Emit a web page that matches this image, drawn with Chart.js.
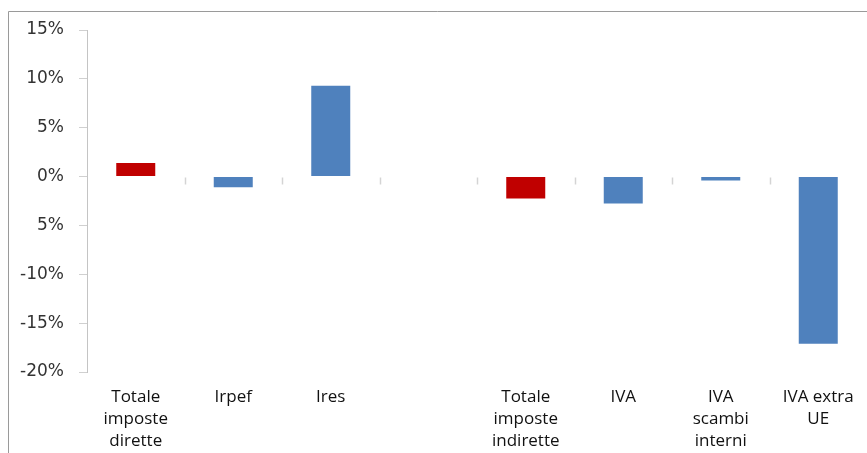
<!DOCTYPE html>
<html>
<head>
<meta charset="utf-8">
<script src="https://cdn.jsdelivr.net/npm/chart.js@4/dist/chart.umd.min.js"></script>
<style>
  html, body { margin: 0; padding: 0; background: #fff; }
  canvas { display: block; }
</style>
</head>
<body>
<canvas id="c" width="867" height="453"></canvas>
<script>
// Variazioni percentuali del gettito per voce d'imposta
const categories = [
  ["Totale", "imposte", "dirette"],
  "Irpef",
  "Ires",
  "",
  ["Totale", "imposte", "indirette"],
  "IVA",
  ["IVA", "scambi", "interni"],
  ["IVA extra", "UE"]
];
const values = [1.4, -1.1, 9.3, null, -2.25, -2.75, -0.4, -17.1];

const yTickValues = [15, 10, 5, 0, -5, -10, -15, -20];
const yTickLabels = ["15%", "10%", "5%", "0%", "5%", "-10%", "-15%", "-20%"];

const RED = "#C00000";
const BLUE = "#4F81BD";

const isTotal = (label) => Array.isArray(label) && label[0] === "Totale";

// Outer frame and small category ticks on the zero line
const decorations = {
  id: "decorations",
  beforeDraw(chart) {
    const ctx = chart.ctx;
    ctx.save();
    ctx.strokeStyle = "#9a9a9a";
    ctx.lineWidth = 1;
    ctx.beginPath();
    ctx.moveTo(8.5, chart.height);
    ctx.lineTo(8.5, 11.5);
    ctx.lineTo(chart.width, 11.5);
    ctx.stroke();
    ctx.restore();
  },
  afterDatasetsDraw(chart) {
    const { ctx, scales: { x, y } } = chart;
    const y0 = Math.round(y.getPixelForValue(0)) + 0.5;
    ctx.save();
    ctx.strokeStyle = "#d4d4d4";
    ctx.lineWidth = 1.5;
    for (let i = 1; i < categories.length; i++) {
      const bx = Math.round((x.getPixelForValue(i - 1) + x.getPixelForValue(i)) / 2) + 0.5;
      ctx.beginPath();
      ctx.moveTo(bx, y0);
      ctx.lineTo(bx, y0 + 7);
      ctx.stroke();
    }
    ctx.restore();
  }
};

new Chart(document.getElementById("c"), {
  type: "bar",
  data: {
    labels: categories,
    datasets: [{
      data: values,
      backgroundColor: categories.map(l => isTotal(l) ? RED : BLUE),
      borderWidth: 0,
      categoryPercentage: 1.0,
      barPercentage: 0.4
    }]
  },
  options: {
    responsive: false,
    animation: false,
    layout: { padding: { top: 30, left: 0, right: 0, bottom: 0 } },
    plugins: {
      legend: { display: false },
      tooltip: { enabled: false }
    },
    scales: {
      x: {
        grid: { display: false },
        border: { display: false },
        ticks: {
          color: "#111111",
          font: { family: "'Open Sans', sans-serif", size: 17, lineHeight: 1.3 },
          padding: 6,
          maxRotation: 0,
          minRotation: 0,
          autoSkip: false
        },
        afterFit(scale) { scale.height = 81; }
      },
      y: {
        min: -20,
        max: 15,
        afterBuildTicks(scale) {
          scale.ticks = yTickValues.map(v => ({ value: v }));
        },
        grid: {
          drawOnChartArea: false,
          drawTicks: true,
          tickLength: 8,
          color: "#d0d0d0"
        },
        border: { display: true, color: "#c4c4c4", width: 1 },
        ticks: {
          color: "#333333",
          font: { family: "'DejaVu Sans', sans-serif", size: 17 },
          padding: 15,
          callback(value) {
            const i = yTickValues.indexOf(value);
            return i >= 0 ? yTickLabels[i] : "";
          }
        },
        afterFit(scale) { scale.width = 87; }
      }
    }
  },
  plugins: [decorations]
});
</script>
</body>
</html>
